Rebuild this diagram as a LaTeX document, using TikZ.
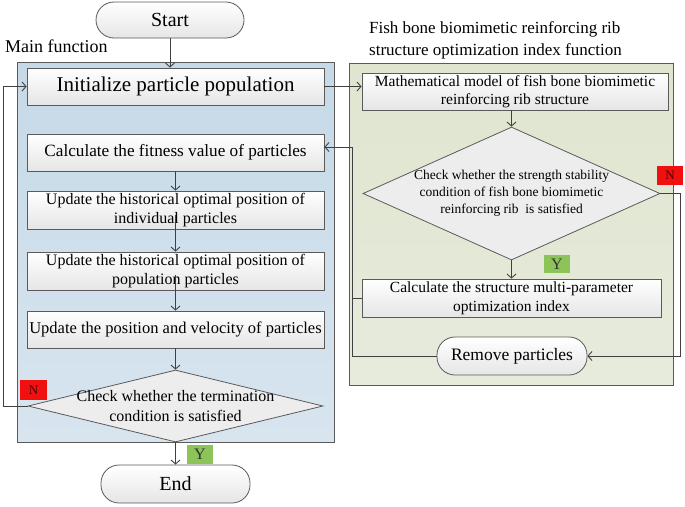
\documentclass[tikz,border=0pt]{standalone}
\usepackage{fontspec}
\setmainfont{Liberation Serif}
\usetikzlibrary{arrows.meta,shapes.geometric,calc}
\definecolor{edge}{HTML}{5A5A5A}
\definecolor{lineclr}{HTML}{404040}
\definecolor{nred}{HTML}{F01010}
\definecolor{ygreen}{HTML}{8CC45A}
\definecolor{bluetop}{HTML}{C6D9E7}
\definecolor{bluebot}{HTML}{D8E5EF}
\definecolor{greentop}{HTML}{DFE5CF}
\definecolor{greenbot}{HTML}{E7EBDC}
\newcommand{\fs}[2]{\fontsize{#1}{#2}\selectfont}
\tikzset{
  box/.style={draw=edge, line width=0.8pt, top color=white, bottom color=black!10, align=center, inner sep=1pt},
  pill/.style={box, rounded corners=18pt},
  panelblue/.style={draw=edge, line width=0.8pt, top color=bluetop, bottom color=bluebot, inner sep=0pt},
  panelgreen/.style={draw=edge, line width=0.8pt, top color=greentop, bottom color=greenbot, inner sep=0pt},
  dia/.style={diamond, draw=edge, line width=0.8pt, fill=black!7, inner sep=0pt},
  arr/.style={draw=lineclr, line width=0.9pt, -{Straight Barb[length=4pt,width=9pt]}},
  ln/.style={draw=lineclr, line width=0.9pt},
  tagN/.style={fill=nred, text=black!70!red, inner sep=0pt, font=\fs{13}{15}},
  tagY/.style={fill=ygreen, text=black!80, inner sep=0pt, font=\fs{16}{18}},
}
\begin{document}
\begin{tikzpicture}[x=1pt,y=-1pt]
\useasboundingbox (0,0) rectangle (685,506);
% panels
\node[panelblue, minimum width=317pt, minimum height=380pt] (mainpanel) at (175.5,252) {};
\node[panelgreen, minimum width=324pt, minimum height=322pt] (rightpanel) at (511,224) {};
% labels
\node[anchor=west, inner sep=0pt, font=\fs{18}{20}] (mainlbl) at (5,46) {Main function};
\node[anchor=north west, inner sep=0pt, align=left, font=\fs{17}{22}] (rightlbl) at (369,21) {Fish bone biomimetic reinforcing rib\\structure optimization index function};
% main column
\node[pill, minimum width=148pt, minimum height=36pt, font=\fs{20}{22}] (start) at (170,20) {Start};
\node[box, minimum width=297pt, minimum height=37pt, font=\fs{21}{24}] (init) at (175.5,86.5) {Initialize particle population};
\node[box, minimum width=297pt, minimum height=37pt, font=\fs{17.2}{20}] (fit) at (175.5,152.5) {Calculate the fitness value of particles};
\node[box, minimum width=297pt, minimum height=38pt, font=\fs{16}{19}] (upd1) at (175.5,210) {Update the historical optimal position of\\individual particles};
\node[box, minimum width=297pt, minimum height=38pt, font=\fs{16}{19}] (upd2) at (175.5,271) {Update the historical optimal position of\\population particles};
\node[box, minimum width=297pt, minimum height=37pt, font=\fs{16.5}{19}] (upd3) at (175.5,329.5) {Update the position and velocity of particles};
\node[dia, minimum width=295pt, minimum height=72pt] (dmain) at (175.5,406) {};
\node[align=center, inner sep=0pt, font=\fs{16}{20}] (dmaintext) at (dmain.center) {Check whether the termination\\condition is satisfied};
\node[pill, minimum width=149pt, minimum height=38pt, font=\fs{20}{22}] (end) at (175.5,484) {End};
\node[tagY, minimum width=26pt, minimum height=19pt] (y1) at (200,454.5) {Y};
\node[tagN, minimum width=27pt, minimum height=20pt] (n1) at (33.5,390) {N};
% right column
\node[box, minimum width=306pt, minimum height=37pt, font=\fs{15.5}{17.5}] (mm) at (515,91.5) {Mathematical model of fish bone biomimetic\\reinforcing rib structure};
\node[dia, minimum width=297pt, minimum height=133pt] (dright) at (511.5,193.5) {};
\node[align=center, inner sep=0pt, font=\fs{13.5}{17}] (drighttext) at (dright.center) {Check whether the strength stability\\condition of fish bone biomimetic\\reinforcing rib\ \ is satisfied};
\node[box, minimum width=299pt, minimum height=38pt, font=\fs{15.5}{19}] (cs) at (511.5,298) {Calculate the structure multi-parameter\\optimization index};
\node[pill, minimum width=150pt, minimum height=38pt, font=\fs{17.5}{20}] (remove) at (512,356) {Remove particles};
\node[tagY, minimum width=26pt, minimum height=18pt] (y2) at (557,264) {Y};
\node[tagN, minimum width=26pt, minimum height=19pt] (n2) at (670,175.5) {N};
% connectors main
\draw[arr] (start) -- (start.south |- init.north);
\draw[arr] (fit.south) -- (fit.south |- upd1.north);
\draw[arr] ($(upd1.center)+(0,5)$) -- (upd2.north);
\draw[arr] ($(upd2.center)+(0,4)$) -- (upd3.north);
\draw[arr] (upd3.south) -- (dmain.north);
\draw[arr] (dmain.south) -- (end.north);
\coordinate (jl) at (3,406);
\draw[arr] (dmain.west) -- (jl) |- (init.west);
% connectors right
\draw[arr] (init.east) -- (init.east -| mm.west);
\draw[arr] (mm.south -| dright.north) -- (dright.north);
\draw[arr] (dright.south) -- (cs.north);
\coordinate (jn) at (680,193.5);
\draw[arr] (dright.east) -- (jn) |- (remove.east);
\coordinate (jr) at (352,147);
\draw[arr] (remove.west) -| (jr) -- (jr -| fit.east);
\draw[ln] (cs.west) -- (cs.west -| jr);
\end{tikzpicture}
\end{document}
